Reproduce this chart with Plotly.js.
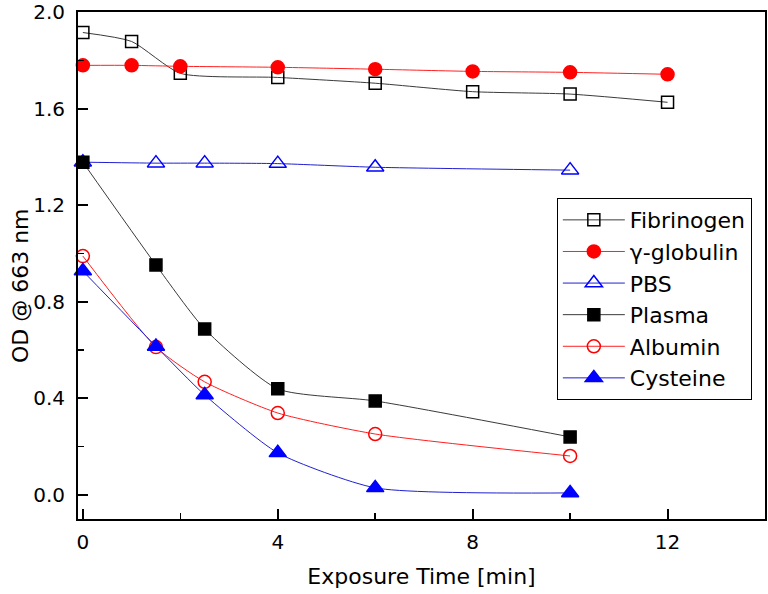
<!DOCTYPE html>
<html>
<head>
<meta charset="utf-8">
<script src="https://cdn.plot.ly/plotly-3.0.1.min.js"></script>
<style>html,body{margin:0;padding:0;background:#fff;}#chart{width:768px;height:594px;}</style>
</head>
<body>
<div id="chart"></div>
<script>
// Data
const seriesNames = ["Fibrinogen", "\u03b3-globulin", "PBS", "Plasma", "Albumin", "Cysteine"];

const fibrinogenX = [0, 1, 2, 4, 6, 8, 10, 12];
const fibrinogenY = [1.915, 1.878, 1.746, 1.729, 1.705, 1.670, 1.660, 1.626];

const globulinX = [0, 1, 2, 4, 6, 8, 10, 12];
const globulinY = [1.779, 1.779, 1.775, 1.771, 1.763, 1.754, 1.750, 1.742];

const pbsX = [0, 1.5, 2.5, 4, 6, 10];
const pbsY = [1.378, 1.374, 1.374, 1.372, 1.357, 1.345];

const plasmaX = [0, 1.5, 2.5, 4, 6, 10];
const plasmaY = [1.378, 0.952, 0.687, 0.439, 0.389, 0.240];

const albuminX = [0, 1.5, 2.5, 4, 6, 10];
const albuminY = [0.989, 0.612, 0.468, 0.339, 0.252, 0.161];

const cysteineX = [0, 1.5, 2.5, 4, 6, 10];
const cysteineY = [0.927, 0.615, 0.414, 0.174, 0.029, 0.008];

const xTickVals = [0, 4, 8, 12];
const xMinorVals = [2, 6, 10];
const yTickVals = [0.0, 0.4, 0.8, 1.2, 1.6, 2.0];
const yMinorVals = [0.2, 0.6, 1.0, 1.4, 1.8];

const xTitle = "Exposure Time [min]";
const yTitle = "OD @ 663 nm";

const FONT = "DejaVu Sans, Arial, sans-serif";

function tr(name, x, y, lineColor, symbol, size, fill, edge) {
  return {
    type: "scatter", mode: "lines+markers", name: name, x: x, y: y,
    line: {color: lineColor, width: 1, shape: "spline", smoothing: 0.6},
    marker: {symbol: symbol, size: size, color: fill, line: {color: edge, width: 1.5}},
    cliponaxis: false
  };
}

const data = [
  tr(seriesNames[0], fibrinogenX, fibrinogenY, "#3a3a3a", "square-open", 12, "#000", "#000"),
  tr(seriesNames[1], globulinX, globulinY, "#ff2020", "circle", 13, "#ff0000", "#ff0000"),
  tr(seriesNames[2], pbsX, pbsY, "#2020d0", "triangle-up-open", 15, "#0000ff", "#0000ff"),
  tr(seriesNames[3], plasmaX, plasmaY, "#3a3a3a", "square", 12, "#000", "#000"),
  tr(seriesNames[4], albuminX, albuminY, "#ff2020", "circle-open", 13, "#ff0000", "#ff0000"),
  tr(seriesNames[5], cysteineX, cysteineY, "#2020d0", "triangle-up", 15, "#0000ff", "#0000ff")
];

const layout = {
  width: 768, height: 594,
  margin: {l: 78, r: 3, t: 12, b: 75},
  paper_bgcolor: "#fff", plot_bgcolor: "#fff",
  font: {family: FONT, size: 20, color: "#000"},
  showlegend: true,
  legend: {
    x: 0.697, y: 0.633, xanchor: "left", yanchor: "top",
    bordercolor: "#000", borderwidth: 1, bgcolor: "#fff",
    font: {family: FONT, size: 22, color: "#000"},
    itemwidth: 62, tracegroupgap: 0
  },
  xaxis: {
    range: [-0.1, 14], showgrid: false, zeroline: false,
    showline: true, linecolor: "#000", linewidth: 2, mirror: true,
    ticks: "inside", ticklen: 10, tickwidth: 2, tickcolor: "#000",
    tickvals: xTickVals, ticktext: xTickVals.map(String),
    minor: {tickvals: xMinorVals, ticks: "inside", ticklen: 6, tickwidth: 1.5, tickcolor: "#000"},
    tickfont: {family: FONT, size: 20},
    ticklabelstandoff: 4,
    title: {text: xTitle, font: {family: FONT, size: 22}, standoff: 16}
  },
  yaxis: {
    range: [-0.1, 2.0], showgrid: false, zeroline: false,
    showline: true, linecolor: "#000", linewidth: 2, mirror: true,
    ticks: "inside", ticklen: 10, tickwidth: 2, tickcolor: "#000",
    tickvals: yTickVals, ticktext: yTickVals.map(v => v.toFixed(1)),
    minor: {tickvals: yMinorVals, ticks: "inside", ticklen: 6, tickwidth: 1.5, tickcolor: "#000"},
    tickfont: {family: FONT, size: 20},
    ticklabelstandoff: 7
  },
  annotations: [{
    text: yTitle, textangle: -90, xref: "paper", yref: "paper",
    x: -0.084, y: 0.46, xanchor: "center", yanchor: "middle", showarrow: false,
    font: {family: FONT, size: 22, color: "#000"}
  }]
};

Plotly.newPlot("chart", data, layout, {displayModeBar: false, staticPlot: true});
</script>
</body>
</html>
